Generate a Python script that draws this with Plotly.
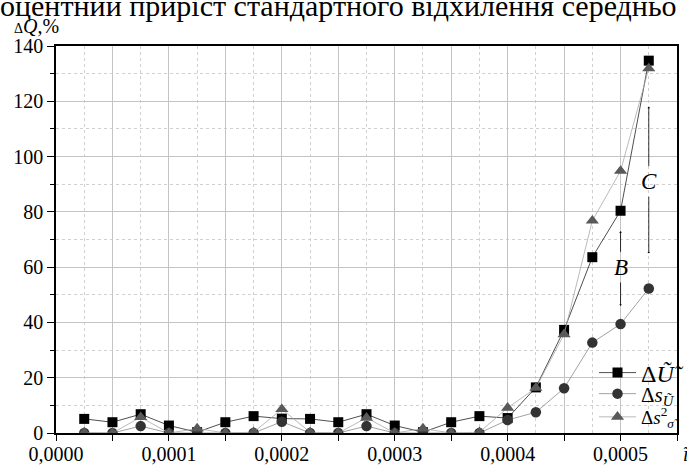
import plotly.graph_objects as go

x_vals = [0.000025, 0.00005, 0.000075, 0.0001, 0.000125, 0.00015, 0.000175, 0.0002,
          0.000225, 0.00025, 0.000275, 0.0003, 0.000325, 0.00035, 0.000375, 0.0004,
          0.000425, 0.00045, 0.000475, 0.0005, 0.000525]
dU = [5.1, 3.9, 6.8, 2.7, 0.3, 3.9, 6.1, 5.2, 5.1, 3.9, 6.8, 2.7, 0.3, 3.9, 6.1, 5.4,
      16.5, 37.3, 63.6, 80.4, 134.7]
ds_U = [0, 0, 2.5, 0, 0, 0, 0, 4.1, 0, 0, 2.5, 0, 0, 0, 0, 4.7,
        7.5, 16.2, 32.7, 39.4, 52.3]
ds_sigma = [0.2, 0, 5.7, 0, 1.6, 0, 0.3, 8.6, 0.3, 0, 5.5, 0, 1.6, 0, 0.3, 9.1,
            16.3, 35.7, 76.8, 94.8, 131.9]

x_tickvals = [0, 0.00005, 0.0001, 0.00015, 0.0002, 0.00025, 0.0003, 0.00035,
              0.0004, 0.00045, 0.0005, 0.00055]
x_ticktext = ["0,0000", "", "0,0001", "", "0,0002", "", "0,0003", "",
              "0,0004", "", "0,0005", ""]

names = ["Δ<i>U\u0303\u0303</i>", "Δ<i>s</i><sub><i>U\u0303</i></sub>",
         "Δ<i>s</i><sup>2</sup><sub><i>σ\u0303</i></sub>"]

FONT = "Liberation Serif"
L, R, T, B = 56, 10, 46, 32
PW, PH = 687 - L - R, 465 - T - B


def px(xp):
    return (xp - L) / PW


def py(yp):
    return (465 - B - yp) / PH


fig = go.Figure()
fig.add_trace(go.Scatter(x=x_vals, y=dU, mode="lines+markers", name=names[0], legend="legend",
                         line=dict(color="#222222", width=0.8),
                         marker=dict(symbol="square", size=10, color="#000000")))
fig.add_trace(go.Scatter(x=x_vals, y=ds_U, mode="lines+markers", name=names[1], legend="legend2",
                         line=dict(color="#8a8a8a", width=0.8),
                         marker=dict(symbol="circle", size=10.5, color="#333333")))
fig.add_trace(go.Scatter(x=x_vals, y=ds_sigma, mode="lines+markers", name=names[2], legend="legend3",
                         line=dict(color="#a8a8a8", width=0.8),
                         marker=dict(symbol="triangle-up", size=11.5, color="#595959")))

# B and C arrows
arrows = [
    (0.0005, 73, 0.0005, 65),
    (0.0005, 46, 0.0005, 55),
    (0.000525, 118, 0.000525, 96),
    (0.000525, 65, 0.000525, 86),
]
for hx, hy, tx, ty in arrows:
    fig.add_annotation(x=hx, y=hy, ax=tx, ay=ty, xref="x", yref="y", axref="x", ayref="y",
                       text="", showarrow=True, arrowhead=1, arrowsize=0.6,
                       arrowwidth=0.8, arrowcolor="#000000")
fig.add_annotation(x=0.0005, y=60, text="<i>B</i>", showarrow=False,
                   font=dict(family=FONT, size=23, color="#000"))
fig.add_annotation(x=0.000525, y=91, text="<i>C</i>", showarrow=False,
                   font=dict(family=FONT, size=23, color="#000"))

# top cropped caption
fig.add_annotation(xref="paper", yref="paper", x=px(-2), y=py(5),
                   xanchor="left", yanchor="middle", showarrow=False,
                   text="оцентний приріст стандартного відхилення середньо",
                   font=dict(family=FONT, size=30, color="#000"))
# y axis title
fig.add_annotation(xref="paper", yref="paper", x=px(12), y=py(26),
                   xanchor="left", yanchor="middle", showarrow=False,
                   text="<span style='font-size:14px'>Δ</span><i>Q</i>,%",
                   font=dict(family=FONT, size=20, color="#000"))
# x axis title (cut off)
fig.add_annotation(xref="paper", yref="paper", x=px(681), y=py(454),
                   xanchor="left", yanchor="middle", showarrow=False,
                   text="<i>ĩ</i>",
                   font=dict(family=FONT, size=20, color="#000"))

leg_common = dict(xanchor="left", yanchor="middle", bgcolor="rgba(0,0,0,0)", borderwidth=0,
                  itemwidth=37)
fig.update_layout(
    width=687, height=465,
    margin=dict(l=L, r=R, t=T, b=B, autoexpand=False),
    paper_bgcolor="white", plot_bgcolor="white",
    separators=",.",
    font=dict(family=FONT, size=20, color="#000"),
    showlegend=True,
    legend=dict(x=px(594), y=py(373), font=dict(family=FONT, size=24, color="#000"), **leg_common),
    legend2=dict(x=px(594), y=py(394), font=dict(family=FONT, size=21, color="#000"), **leg_common),
    legend3=dict(x=px(594), y=py(417), font=dict(family=FONT, size=19, color="#000"), **leg_common),
)
fig.update_xaxes(
    range=[0, 0.00055], tickmode="array", tickvals=x_tickvals, ticktext=x_ticktext,
    showline=True, linecolor="#000", linewidth=1.5, mirror=True,
    ticks="outside", ticklen=6, tickwidth=1.2, tickcolor="#000",
    showgrid=True, gridcolor="#c4c4c4", gridwidth=1,
    minor=dict(dtick=0.000025, tick0=0, showgrid=True, gridcolor="#d0d0d0",
               griddash="3px,3px", gridwidth=1, ticks=""),
    zeroline=False, tickfont=dict(family=FONT, size=20), automargin=False,
    ticklabelstandoff=-4,
)
fig.update_yaxes(
    range=[0, 140], dtick=20, tick0=0,
    showline=True, linecolor="#000", linewidth=1.5, mirror=True,
    ticks="outside", ticklen=7, tickwidth=1.2, tickcolor="#000",
    showgrid=True, gridcolor="#c4c4c4", gridwidth=1,
    minor=dict(dtick=10, tick0=0, showgrid=True, gridcolor="#d0d0d0",
               griddash="3px,3px", gridwidth=1, ticks="outside", ticklen=4, tickcolor="#000"),
    zeroline=False, tickfont=dict(family=FONT, size=20), automargin=False,
)

fig.write_html("out.html", config={"displayModeBar": False},
               post_script="document.body.style.margin='0px';document.body.style.padding='0px';")
